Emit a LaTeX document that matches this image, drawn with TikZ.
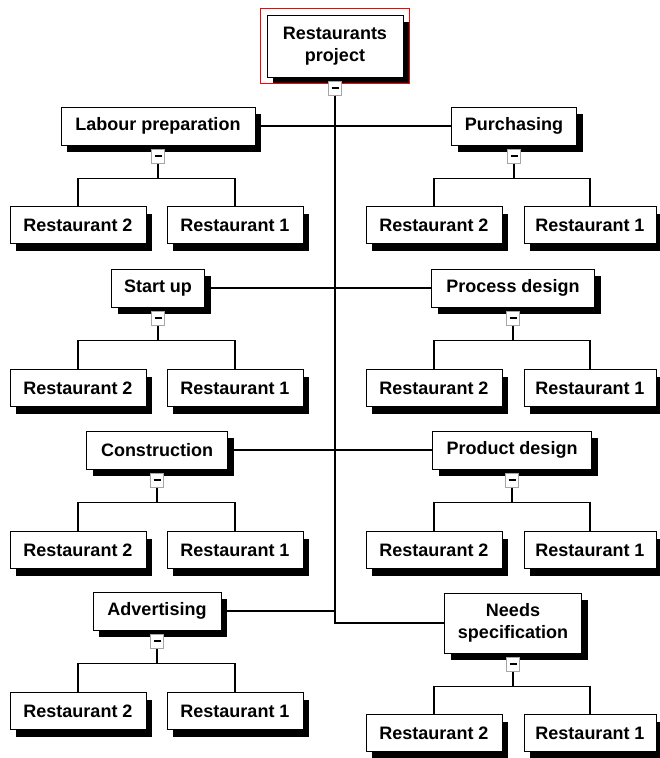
\documentclass[tikz,border=0pt]{standalone}
\usepackage{fontspec}
\setmainfont{Liberation Sans}
\usetikzlibrary{positioning,shadows,fit}

\tikzset{
  task/.style={draw, line width=1pt, fill=white, font=\bfseries\fontsize{18}{22}\selectfont,
    align=center, minimum height=38pt, inner sep=0pt,
    drop shadow={shadow xshift=6pt, shadow yshift=-7pt, fill=black, opacity=1}},
  leaf/.style={task, minimum width=136pt, minimum height=37pt},
  fold/.style={draw=gray!70, fill=white, line width=1pt, minimum width=13pt, minimum height=14pt, inner sep=0pt},
  link/.style={line width=1.2pt},
}

\begin{document}
\begin{tikzpicture}[x=1pt, y=-1pt]

    \useasboundingbox (0,0) rectangle (660,758);

    % Root task with its red frame
    \node[task, minimum width=136pt, minimum height=62pt] (root) at (335,46) {Restaurants\\project};
    \node[draw=red, line width=1.3pt, inner sep=6pt, fit=(root)] (frame) {};
    \node[fold, below=3pt of root] (root-m) {\rule{7pt}{2pt}};

    % Left column of sub tasks
    \node[task, minimum width=194pt] (lab) at (158,126) {Labour preparation};
    \node[task, minimum width=93pt] (sta) at (158,288) {Start up};
    \node[task, minimum width=141pt] (con) at (157,450) {Construction};
    \node[task, minimum width=128pt] (adv) at (157,611) {Advertising};

    % Right column of sub tasks
    \node[task, minimum width=125pt] (pur) at (514,126) {Purchasing};
    \node[task, minimum width=163pt] (pro) at (513,288) {Process design};
    \node[task, minimum width=159pt] (prd) at (512,450) {Product design};
    \node[task, minimum width=137pt, minimum height=60pt] (nee) at (513,623) {Needs\\specification};

    % Fold markers under each sub task
    \node[fold, below=3pt of lab] (lab-m) {\rule{7pt}{2pt}};
    \node[fold, below=3pt of sta] (sta-m) {\rule{7pt}{2pt}};
    \node[fold, below=3pt of con] (con-m) {\rule{7pt}{2pt}};
    \node[fold, below=3pt of adv] (adv-m) {\rule{7pt}{2pt}};
    \node[fold, below=3pt of pur] (pur-m) {\rule{7pt}{2pt}};
    \node[fold, below=3pt of pro] (pro-m) {\rule{7pt}{2pt}};
    \node[fold, below=3pt of prd] (prd-m) {\rule{7pt}{2pt}};
    \node[fold, below=3pt of nee] (nee-m) {\rule{7pt}{2pt}};

    % Restaurant leaves, left column
    \node[leaf] (lab2) at (78,225) {Restaurant 2};
    \node[leaf] (lab1) at (235,225) {Restaurant 1};
    \node[leaf] (sta2) at (78,388) {Restaurant 2};
    \node[leaf] (sta1) at (235,388) {Restaurant 1};
    \node[leaf] (con2) at (78,550) {Restaurant 2};
    \node[leaf] (con1) at (235,550) {Restaurant 1};
    \node[leaf] (adv2) at (78,711) {Restaurant 2};
    \node[leaf] (adv1) at (235,711) {Restaurant 1};

    % Restaurant leaves, right column
    \node[leaf] (pur2) at (434,225) {Restaurant 2};
    \node[leaf, minimum width=132pt] (pur1) at (590,225) {Restaurant 1};
    \node[leaf] (pro2) at (434,388) {Restaurant 2};
    \node[leaf, minimum width=132pt] (pro1) at (590,388) {Restaurant 1};
    \node[leaf] (prd2) at (434,550) {Restaurant 2};
    \node[leaf, minimum width=132pt] (prd1) at (590,550) {Restaurant 1};
    \node[leaf] (nee2) at (434,733) {Restaurant 2};
    \node[leaf, minimum width=132pt] (nee1) at (590,733) {Restaurant 1};

    % Trunk and the rows hanging on it
    \draw[link] (root-m.south) |- (nee.west);
    \draw[link] (lab) -- (pur);
    \draw[link] (sta) -- (pro);
    \draw[link] (con) -- (prd);
    \draw[link] (adv.east) -- (adv.east -| root-m.south);

    % Forks down to the restaurants
    \draw[link] (lab-m.south) -- ++(0,15) coordinate (lab-f) -| (lab2.north) (lab-f) -| (lab1.north);
    \draw[link] (sta-m.south) -- ++(0,15) coordinate (sta-f) -| (sta2.north) (sta-f) -| (sta1.north);
    \draw[link] (con-m.south) -- ++(0,15) coordinate (con-f) -| (con2.north) (con-f) -| (con1.north);
    \draw[link] (adv-m.south) -- ++(0,15) coordinate (adv-f) -| (adv2.north) (adv-f) -| (adv1.north);
    \draw[link] (pur-m.south) -- ++(0,15) coordinate (pur-f) -| (pur2.north) (pur-f) -| (pur1.north);
    \draw[link] (pro-m.south) -- ++(0,15) coordinate (pro-f) -| (pro2.north) (pro-f) -| (pro1.north);
    \draw[link] (prd-m.south) -- ++(0,15) coordinate (prd-f) -| (prd2.north) (prd-f) -| (prd1.north);
    \draw[link] (nee-m.south) -- ++(0,15) coordinate (nee-f) -| (nee2.north) (nee-f) -| (nee1.north);

\end{tikzpicture}
\end{document}
